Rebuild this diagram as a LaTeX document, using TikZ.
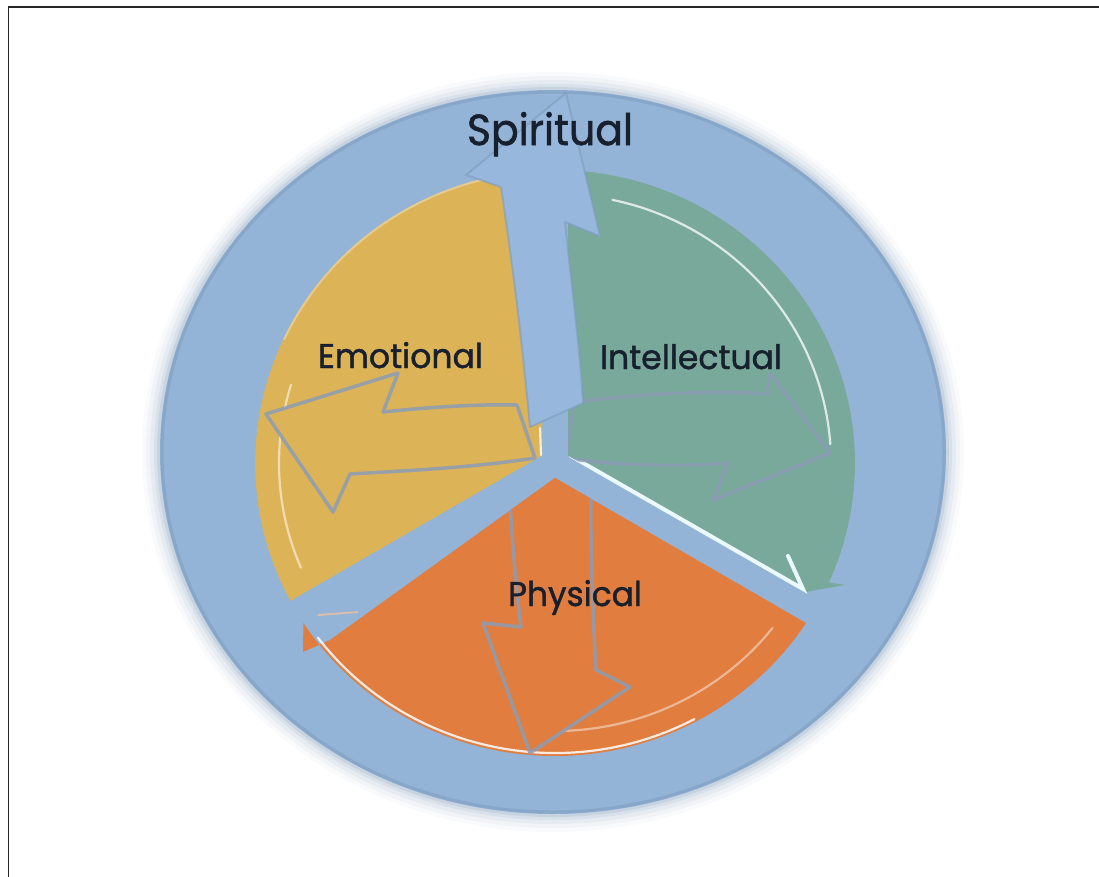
\documentclass[tikz,border=0pt]{standalone}
\usepackage{fontspec}
\setmainfont{Poppins}
\newfontfamily\lblfont[FakeBold=1.3]{Poppins}
\usepackage{graphicx}
\definecolor{bgb}{HTML}{93B4D6}
\definecolor{glowc}{HTML}{A3B7CE}
\definecolor{ringc}{HTML}{7E9CBF}
\definecolor{yel}{HTML}{DDB357}
\definecolor{grn}{HTML}{78A99A}
\definecolor{org}{HTML}{E07D3F}
\definecolor{arb}{HTML}{97B8DC}
\definecolor{outl}{HTML}{8B9DB4}
\definecolor{txt}{HTML}{18202E}
\tikzset{
  inarrow/.style={draw=outl, line width=3.5, line join=round, draw opacity=.85},
  hilite/.style={draw=white, line width=2.2, line cap=round},
  lbl/.style={inner sep=0pt, anchor=base, text=txt, font=\lblfont}
}
\begin{document}
\begin{tikzpicture}[x=1pt,y=-1pt]
\useasboundingbox (0,0) rectangle (1099,876);
\fill[white] (0,0) rectangle (1099,876);
\draw[black!85, line width=1.6] (8.5,880) -- (8.5,7) -- (1105,7);
% outer disc with soft glow
\foreach \d/\o in {18/0.06, 14/0.09, 10/0.13, 6/0.2, 3/0.3}
  \fill[glowc, opacity=\o] (553,452) ellipse[x radius=393+\d, y radius=362+\d];
\fill[bgb] (553,452) ellipse[x radius=393, y radius=362];
\draw[ringc, line width=3, opacity=.55] (553,452) ellipse[x radius=391, y radius=360];
\coordinate (C) at (555,463);
% sectors
\fill[yel] (542,455.5) -- (290.4,600.75) arc[start angle=152, end angle=267.5, x radius=300, y radius=293] -- cycle;
\fill[grn] (568,455.5) -- (568,170.3) arc[start angle=272.5, end angle=384, x radius=300, y radius=293] -- (845,585) -- (805,592) -- cycle;
\fill[org] (555,478) -- (806,623) arc[start angle=33.1, end angle=146.9, x radius=300, y radius=293] -- (303,652) -- (330,640) -- cycle;
% highlights
\draw[hilite, opacity=.55] (C) ++(157:276 and 268) arc[start angle=157, end angle=197, x radius=276, y radius=268];
\draw[yel!60!white, line width=2, opacity=.8] (C) ++(205:299 and 292) arc[start angle=205, end angle=262, x radius=299, y radius=292];
\draw[hilite, opacity=.75] (C) ++(282:276 and 269) arc[start angle=282, end angle=356, x radius=276, y radius=269];
\draw[hilite, opacity=.85] (C) ++(62:297 and 290) arc[start angle=62, end angle=143, x radius=297, y radius=290];
\draw[hilite, opacity=.45] (C) ++(38:276 and 268) arc[start angle=38, end angle=95, x radius=276, y radius=268];
\draw[org!50!white, line width=2, opacity=.8] (318,615) -- (358,612);
\draw[white!92!cyan, line width=4, line cap=round] (571,456) -- (803,589) -- (788,556);
\draw[hilite, opacity=.8] (540,428) -- (541,455);
% inner arrows, each kept inside its sector
\begin{scope}
\clip (542,455.5) -- (290.4,600.75) arc[start angle=152, end angle=267.5, x radius=300, y radius=293] -- cycle;
\filldraw[fill=yel, inarrow] (517,405) -- (535,458)
  .. controls (470,468) and (400,471) .. (350,474) -- (333,512) -- (266,414)
  -- (398,373) -- (383,412) .. controls (430,407) and (480,404) .. (517,405) -- cycle;
\end{scope}
\begin{scope}
\clip (568,455.5) -- (568,170.3) arc[start angle=272.5, end angle=384, x radius=300, y radius=293] -- (845,585) -- (805,592) -- cycle;
\filldraw[fill=grn, inarrow] (566,458) -- (574,402)
  .. controls (640,394) and (710,390) .. (767,394) -- (770,373) -- (830,453)
  -- (713,500) -- (728,463) .. controls (680,467) and (620,466) .. (566,458) -- cycle;
\end{scope}
\begin{scope}
\clip (555,478) -- (806,623) arc[start angle=33.1, end angle=146.9, x radius=300, y radius=293] -- (303,652) -- (330,640) -- cycle;
\filldraw[fill=org, inarrow] (507,455) .. controls (512,540) and (516,590) .. (521,627)
  -- (483,623) -- (530,753) -- (630,687) -- (596,670)
  .. controls (592,600) and (590,530) .. (591,455) -- cycle;
\end{scope}
% blue arrow
\filldraw[fill=arb, draw=ringc, line width=2, line join=round, draw opacity=.6]
  (530,427) .. controls (522,340) and (512,260) .. (501,187) -- (466,175) -- (566,93)
  -- (600,236) -- (565,222) .. controls (572,290) and (580,350) .. (583,403) -- cycle;
% labels
\node[lbl] (spir) at (550,145) {\resizebox{166pt}{33pt}{Spiritual}};
\node[lbl] (emo) at (400.5,368) {\resizebox{165pt}{26pt}{Emotional}};
\node[lbl] (int) at (691,369) {\resizebox{182pt}{25pt}{Intellectual}};
\node[lbl] (phy) at (575,606) {\resizebox{134pt}{26pt}{Physical}};
\end{tikzpicture}
\end{document}
